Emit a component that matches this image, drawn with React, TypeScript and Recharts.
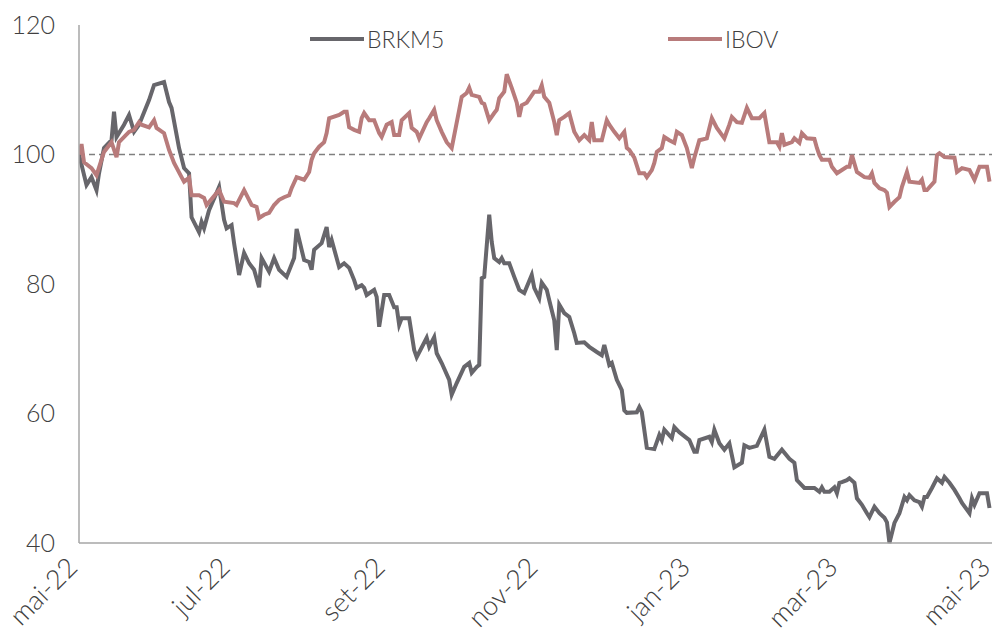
import React from 'react'
import { LineChart, Line, XAxis, YAxis, ReferenceLine, Legend } from 'recharts'

// x = days since 1 May 2022, y = index (base 100)
const monthTicks = [0, 61, 123, 184, 245, 304, 365]
const monthLabels = ['mai-22', 'jul-22', 'set-22', 'nov-22', 'jan-23', 'mar-23', 'mai-23']
const yTicks = [40, 60, 80, 100, 120]

const brkmDays = [
  0, 3, 5, 7, 8, 10, 13, 14, 15, 18, 20, 22, 24, 28, 30, 34, 36, 37, 40, 42, 44, 45, 48, 49, 50, 52,
  56, 58, 59, 61, 62, 64, 66, 68, 70, 72, 73, 76, 78, 80, 83, 86, 87, 90, 92, 93, 94, 97, 99, 100, 101,
  104, 106, 108, 110, 111, 113, 114, 115, 118, 119, 120, 122, 124, 126, 127, 128, 129, 132, 134, 135,
  139, 140, 142, 143, 145, 148, 149, 151, 154, 156, 157, 159, 160, 161, 162, 164, 165, 166, 168, 169,
  170, 172, 174, 176, 178, 181, 182, 184, 185, 187, 188, 190, 191, 192, 194, 196, 198, 199, 202, 204,
  207, 209, 210, 212, 213, 215, 217, 218, 219, 223, 224, 225, 227, 230, 232, 233, 234, 237, 238, 240,
  244, 246, 247, 248, 252, 253, 254, 256, 258, 260, 262, 265, 266, 268, 271, 274, 276, 278, 281, 284,
  286, 287, 290, 294, 296, 297, 298, 300, 302, 303, 304, 305, 307, 308, 310, 311, 313, 315, 316, 318,
  320, 322, 323, 324, 326, 328, 330, 331, 332, 334, 336, 337, 338, 339, 341, 343, 345, 346, 348, 350,
  352, 353, 356, 357, 358, 360, 363, 364,
]
const brkmValues = [
  100, 95.3, 96.5, 94.5, 97.1, 101.0, 102.2, 106.6, 102.7, 104.6, 106.1, 103.5, 104.6, 108.4, 110.7,
  111.2, 108.1, 107.2, 101.0, 97.9, 97.1, 90.3, 88.0, 89.6, 88.6, 91.4, 95.0, 89.9, 88.6, 89.1, 86.3,
  81.4, 84.8, 83.2, 82.2, 79.5, 84.0, 81.9, 84.0, 82.2, 81.1, 84.0, 88.5, 83.7, 83.4, 82.2, 85.3, 86.3,
  88.8, 85.7, 86.8, 82.6, 83.2, 82.5, 80.6, 79.4, 79.8, 79.4, 78.3, 79.1, 78.0, 73.4, 78.3, 78.3, 76.4,
  76.4, 73.7, 74.7, 74.7, 69.8, 68.7, 71.7, 70.3, 71.8, 69.3, 67.8, 65.2, 62.9, 64.7, 67.2, 67.8, 66.3,
  67.2, 67.5, 80.9, 81.1, 90.7, 86.5, 84.0, 83.4, 84.0, 83.2, 83.2, 81.1, 79.1, 78.6, 81.4, 79.4, 77.8,
  80.2, 79.1, 77.5, 74.4, 69.8, 76.8, 75.5, 74.9, 72.4, 70.9, 71.0, 70.3, 69.5, 69.0, 70.6, 67.5, 67.8,
  65.2, 63.6, 60.5, 60.1, 60.2, 61.0, 60.2, 54.7, 54.5, 56.7, 55.9, 57.5, 56.2, 57.9, 57.1, 55.9, 54.1,
  54.1, 55.9, 56.4, 55.6, 57.5, 55.4, 54.4, 55.4, 51.7, 52.4, 55.1, 54.7, 55.0, 57.5, 53.3, 53.0, 54.4,
  53.0, 52.4, 49.7, 48.5, 48.5, 47.9, 48.6, 47.9, 47.9, 48.6, 47.7, 49.3, 49.4, 49.7, 50.0, 49.3, 46.9,
  45.9, 44.6, 44.0, 45.6, 44.6, 43.9, 43.2, 40.0, 43.1, 44.6, 47.1, 46.6, 47.4, 46.6, 46.3, 45.6, 47.1,
  47.1, 48.5, 50.0, 49.3, 50.2, 49.3, 48.2, 46.9, 46.2, 44.6, 46.9, 45.9, 47.7, 47.7, 45.4,
]

const ibovDays = [
  0, 1, 2, 5, 7, 10, 13, 15, 16, 20, 22, 24, 25, 28, 30, 31, 34, 36, 38, 41, 42, 44, 45, 48, 50, 51,
  56, 58, 62, 63, 66, 69, 71, 72, 74, 76, 78, 80, 82, 84, 85, 87, 90, 92, 93, 94, 96, 98, 99, 100, 104,
  106, 107, 108, 110, 112, 113, 114, 116, 118, 120, 121, 123, 125, 126, 128, 129, 132, 133, 135, 136,
  139, 140, 142, 143, 145, 147, 149, 152, 153, 155, 156, 157, 160, 161, 162, 164, 166, 167, 168, 170,
  171, 173, 175, 176, 177, 179, 182, 184, 185, 186, 188, 190, 191, 192, 194, 196, 198, 200, 202, 204,
  205, 206, 209, 211, 212, 214, 216, 218, 219, 220, 222, 224, 226, 227, 229, 230, 231, 233, 234, 236,
  238, 239, 241, 243, 245, 246, 248, 251, 253, 255, 258, 260, 261, 263, 265, 267, 269, 272, 274, 275,
  276, 279, 280, 281, 282, 285, 286, 288, 289, 291, 294, 295, 296, 297, 300, 301, 303, 305, 307, 308,
  309, 311, 314, 316, 317, 318, 320, 322, 323, 324, 326, 328, 329, 331, 332, 336, 337, 338, 339, 342,
  343, 344, 346, 350, 351, 353, 356, 358, 360, 363, 364,
]
const ibovValues = [
  100, 101.6, 98.8, 97.9, 96.8, 100.4, 101.9, 99.6, 101.9, 103.5, 103.8, 105.0, 104.6, 104.2, 105.3,
  104.1, 103.3, 100.7, 98.7, 96.5, 95.8, 96.4, 93.7, 93.7, 93.3, 92.2, 94.5, 92.7, 92.5, 92.2, 94.5,
  92.2, 91.9, 90.2, 90.7, 91.0, 92.2, 93.0, 93.4, 93.7, 94.8, 96.5, 96.1, 97.3, 99.2, 100.2, 101.2, 101.9,
  103.3, 105.6, 106.1, 106.6, 106.6, 104.2, 103.8, 103.5, 105.6, 106.4, 105.3, 105.3, 103.3, 102.7, 104.6,
  105.0, 103.0, 103.0, 105.3, 106.4, 104.1, 103.5, 102.5, 105.0, 105.6, 106.9, 105.3, 103.5, 101.9, 101.0,
  106.9, 108.9, 109.5, 110.3, 109.2, 108.9, 108.0, 107.8, 105.3, 106.4, 106.9, 108.7, 109.7, 112.4, 110.3,
  108.0, 105.8, 107.6, 108.0, 109.7, 109.7, 110.7, 108.9, 108.0, 105.0, 103.0, 105.3, 105.8, 106.4, 103.5,
  102.2, 103.0, 102.2, 105.0, 102.2, 102.2, 105.3, 104.6, 103.5, 102.5, 103.5, 101.0, 100.7, 99.5, 97.1,
  97.1, 96.5, 97.6, 98.7, 100.4, 101.0, 102.7, 102.2, 101.8, 103.5, 103.0, 101.0, 97.9, 99.5, 102.2, 102.5,
  105.6, 104.1, 102.5, 104.6, 105.8, 105.0, 104.9, 107.2, 105.6, 105.6, 106.4, 104.1, 101.9, 101.9, 101.2,
  103.3, 101.5, 101.9, 102.5, 101.8, 103.3, 102.5, 102.4, 101.0, 99.9, 99.2, 99.2, 98.1, 97.1, 97.6, 98.1,
  98.1, 99.9, 97.3, 96.5, 96.4, 97.1, 95.6, 94.8, 94.5, 94.1, 91.9, 92.7, 93.4, 95.0, 97.3, 95.8, 95.6,
  96.1, 94.5, 94.5, 95.8, 99.9, 100.2, 99.6, 99.5, 97.3, 97.9, 97.6, 96.1, 98.1, 98.1, 95.8,
]

const brkmData = brkmDays.map((d, i) => ({ day: d, value: brkmValues[i] }))
const ibovData = ibovDays.map((d, i) => ({ day: d, value: ibovValues[i] }))

const FONT = "Lato, 'Open Sans', sans-serif"
const AXIS_GRAY = '#a6a6a6'
const TEXT = '#404040'

const MonthTick = (props: any) => {
  const { x, y, payload } = props
  const i = monthTicks.indexOf(payload.value)
  const ax = x
  const ay = y + 24
  return (
    <text
      x={ax}
      y={ay}
      transform={`rotate(-45 ${ax} ${ay})`}
      textAnchor="end"
      fontSize={27}
      fontWeight={300}
      fill={TEXT}
      fontFamily={FONT}
    >
      {monthLabels[i]}
    </text>
  )
}

const legendLeft: Record<string, number> = { BRKM5: 310, IBOV: 668 }

const renderLegend = (props: any) => {
  const { payload } = props
  return (
    <div style={{ position: 'relative', height: 36 }}>
      {payload.map((p: any) => (
        <div
          key={p.value}
          style={{
            position: 'absolute',
            left: legendLeft[p.value],
            top: 0,
            display: 'flex',
            alignItems: 'center',
            fontFamily: FONT,
            fontWeight: 300,
            fontSize: 23,
            color: TEXT,
          }}
        >
          <span style={{ display: 'inline-block', width: 54, height: 4, background: p.color, marginRight: 3 }} />
          {p.value}
        </div>
      ))}
    </div>
  )
}

export default function App() {
  return (
    <div style={{ position: 'absolute', left: 0, top: 0, background: '#fff' }}>
      <LineChart width={997} height={638} margin={{ top: 25, right: 5, bottom: 15, left: 0 }}>
        <XAxis
          type="number"
          dataKey="day"
          domain={[0, 365]}
          ticks={monthTicks}
          tick={<MonthTick />}
          tickLine={false}
          tickSize={0}
          height={80}
          stroke={AXIS_GRAY}
          strokeWidth={1.5}
          interval={0}
          allowDataOverflow
        />
        <YAxis
          type="number"
          domain={[40, 120]}
          ticks={yTicks}
          width={79}
          tickLine={false}
          tickSize={0}
          tickMargin={24}
          stroke={AXIS_GRAY}
          strokeWidth={1.5}
          tick={{ fontSize: 25, fontWeight: 300, fill: TEXT, fontFamily: FONT }}
          interval={0}
        />
        <ReferenceLine y={100} stroke="#7f7f7f" strokeWidth={1.5} strokeDasharray="6 4" />
        <Legend
          verticalAlign="middle"
          content={renderLegend}
          wrapperStyle={{ top: 25, left: 0, width: 997 }}
        />
        <Line
          data={brkmData}
          dataKey="value"
          name="BRKM5"
          stroke="#67666b"
          strokeWidth={4}
          dot={false}
          isAnimationActive={false}
        />
        <Line
          data={ibovData}
          dataKey="value"
          name="IBOV"
          stroke="#b87b7b"
          strokeWidth={4}
          dot={false}
          isAnimationActive={false}
        />
      </LineChart>
    </div>
  )
}
